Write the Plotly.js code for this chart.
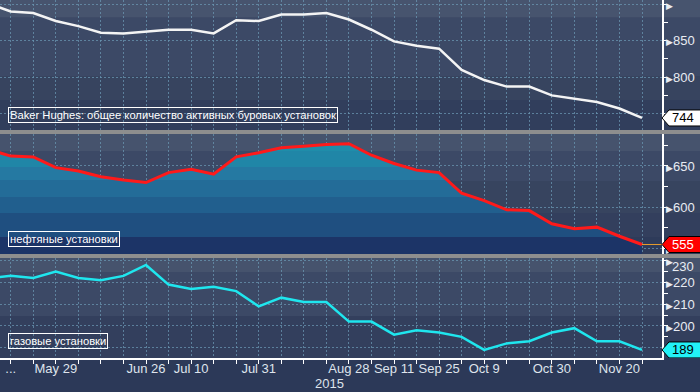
<!DOCTYPE html>
<html><head><meta charset="utf-8">
<script src="https://cdn.plot.ly/plotly-3.0.1.min.js"></script>
<style>html,body{margin:0;padding:0;background:#2c3958;}#chart{width:700px;height:392px;}</style>
</head><body><div id="chart"></div>
<script>
// ---------- data ----------
const weeks = ['2015-05-08','2015-05-15','2015-05-22','2015-05-29','2015-06-05','2015-06-12','2015-06-19','2015-06-26',
  '2015-07-03','2015-07-10','2015-07-17','2015-07-24','2015-07-31','2015-08-07','2015-08-14','2015-08-21','2015-08-28',
  '2015-09-04','2015-09-11','2015-09-18','2015-09-25','2015-10-02','2015-10-09','2015-10-16','2015-10-23','2015-10-30',
  '2015-11-06','2015-11-13','2015-11-20','2015-11-27'];
const totalRigs = [901, 890, 888, 877, 870, 861, 860, 862, 865, 865, 860, 878, 877, 886, 886, 888, 879, 865, 849, 843,
  839, 810, 796, 787, 787, 775, 771, 766, 757, 744];
const oilRigs = [670, 662, 661, 648, 644, 637, 633, 630, 642, 646, 640, 661, 666, 672, 674, 676, 677, 663, 653, 645,
  642, 617, 608, 597, 596, 580, 574, 576, 565, 555];
const gasRigs = [222, 223, 222, 225, 222, 221, 223, 228, 219, 217, 218, 216, 209, 213, 211, 211, 202, 202, 196, 198,
  197, 195, 189, 192, 193, 197, 199, 193, 193, 189];

const xLabelDates = ['2015-05-15','2015-05-29','2015-06-26','2015-07-10','2015-07-31','2015-08-28','2015-09-11','2015-09-25','2015-10-09','2015-10-30','2015-11-20'];
const xLabelText  = ['...','May 29','Jun 26','Jul 10','Jul 31','Aug 28','Sep 11','Sep 25','Oct 9','Oct 30','Nov 20'];
const yearLabel = '2015';

const totalTickVals = [750, 800, 850, 900];
const totalTickText = ['', '800', '850', ''];
const oilTickVals = [550, 600, 650];
const oilTickText = ['', '600', '650'];
const gasTickVals = [190, 200, 210, 220, 230];
const gasTickText = ['', '200', '210', '220', '230'];

const titleTotal = 'Baker Hughes: общее количество активных буровых установок';
const titleOil = 'нефтяные установки';
const titleGas = 'газовые установки';

// ---------- style ----------
const FONT = 'Liberation Sans, Arial, sans-serif';
const H = 358, W = 662, FULLW = 700;
const py = p => 1 - p / H;
const xRange = ['2015-05-11 16:00', '2015-12-03 05:00'];
const r1 = [727.5, 905.8], r2 = [543.5, 688.7], r3 = [185.3, 231.2];
const GRID = 'rgba(105,150,178,0.75)';
const DASH = '2px,2px';
const ARROW = '<span style="font-size:9px;font-family:DejaVu Sans">▶</span>';

const bgBands = [[0,17.7,'#47546e'],[17.7,76,'#3c4966'],[76,100,'#37445f'],[100,130,'#313e5c'],
  [134,151,'#46536d'],[151,181,'#3c4966'],[181,213,'#37445f'],[213,237,'#333f5d'],[237,254,'#2e3b5a'],
  [258,272,'#46536d'],[272,316,'#3c4966'],[316,358,'#333f5d']];
const seps = [[130,134],[254,258]];
const oilFillBands = [[543.5,'#1c3467'],[564.4,'#1f4f80'],[593.1,'#215f8e'],[612.8,'#236c98'],[633,'#2579a2'],[649.1,'#2086a7'],[668.1,'#1f8daa']];

function steppedScale(bands, lo, hi){
  const cs = [];
  bands.forEach((b, i) => {
    const a = (b[0] - lo) / (hi - lo);
    const e = i + 1 < bands.length ? (bands[i+1][0] - lo) / (hi - lo) : 1;
    cs.push([Math.max(0, a), b[1]]); cs.push([Math.min(1, e), b[1]]);
  });
  return cs;
}

const labelMap = {};
xLabelDates.forEach((d, i) => labelMap[d] = xLabelText[i]);

const traces = [
  {x: weeks, y: totalRigs, xaxis: 'x', yaxis: 'y', mode: 'lines', line: {color: '#f4f4f4', width: 2.5}, hoverinfo: 'skip'},
  {x: weeks, y: oilRigs, xaxis: 'x', yaxis: 'y2', mode: 'lines', fill: 'tozeroy',
   fillgradient: {type: 'vertical', start: r2[0], stop: r2[1], colorscale: steppedScale(oilFillBands, r2[0], r2[1])},
   line: {color: '#ff1a1a', width: 3}, hoverinfo: 'skip'},
  {x: weeks, y: gasRigs, xaxis: 'x', yaxis: 'y3', mode: 'lines', line: {color: '#1fe6ee', width: 2.5}, hoverinfo: 'skip'}
];

const shapes = [];
bgBands.forEach(b => shapes.push({type: 'rect', layer: 'below', xref: 'paper', yref: 'paper', x0: 0, x1: FULLW / W,
  y0: py(b[1]), y1: py(b[0]), fillcolor: b[2], line: {width: 0}}));
seps.forEach(s => shapes.push({type: 'rect', layer: 'above', xref: 'paper', yref: 'paper', x0: 0, x1: FULLW / W,
  y0: py(s[1]), y1: py(s[0]), fillcolor: '#8e8e8e', line: {width: 0}}));

const last = a => a[a.length - 1];
shapes.push({type: 'line', layer: 'above', xref: 'x', yref: 'y2', x0: last(weeks), x1: xRange[1], y0: last(oilRigs), y1: last(oilRigs),
  line: {color: '#e39a2d', width: 1}});

const tagPath = 'M0,0 L7,8 L44,8 L44,-8 L7,-8 Z';
const tags = [
  {yref: 'y', v: last(totalRigs), fill: '#ffffff', txt: '#000000'},
  {yref: 'y2', v: last(oilRigs), fill: '#ff0000', txt: '#ffffff'},
  {yref: 'y3', v: last(gasRigs), fill: '#22f2f6', txt: '#000000'}
];
const annotations = [];
tags.forEach(t => {
  shapes.push({type: 'path', layer: 'above', xref: 'paper', xsizemode: 'pixel', xanchor: 1,
    yref: t.yref, ysizemode: 'pixel', yanchor: t.v, path: tagPath, fillcolor: t.fill, line: {color: '#000', width: 1}});
  annotations.push({xref: 'paper', x: 1, xanchor: 'left', xshift: 8, yref: t.yref, y: t.v, yanchor: 'middle',
    text: String(t.v), showarrow: false, font: {family: FONT, size: 13, color: t.txt}});
});

[[titleTotal, 'y domain', 7], [titleOil, 'y2 domain', 7.3], [titleGas, 'y3 domain', 8.7]].forEach(l => {
  annotations.push({xref: 'paper', x: 0, xanchor: 'left', xshift: 8, yref: l[1], y: 0, yanchor: 'bottom', yshift: l[2],
    text: l[0], showarrow: false, bordercolor: '#ffffff', borderwidth: 1, borderpad: 1,
    font: {family: FONT, size: 11.2, color: '#ffffff'}});
});
annotations.push({xref: 'x', x: '2015-08-22', yref: 'paper', y: 0, yshift: -25, yanchor: 'middle', text: yearLabel,
  showarrow: false, font: {family: FONT, size: 13, color: '#dfe4ec'}});

// top gas label is drawn slightly lower (pushed away from panel edge), tick arrow stays on the axis
const gasTopIdx = gasTickText.length - 1;
const gasTickTextAxis = gasTickText.map((t, i) => i === gasTopIdx ? '' : t);
annotations.push({xref: 'paper', x: 1, xanchor: 'left', xshift: 8, yref: 'y3', y: gasTickVals[gasTopIdx], yanchor: 'middle', yshift: -6,
  text: gasTickText[gasTopIdx], showarrow: false, font: {family: FONT, size: 13, color: '#e8ecf2'}});

function yAxis(domain, range, vals, texts, minorD){
  return {domain: domain, range: range, side: 'right', anchor: 'x', tickmode: 'array', tickvals: vals,
    ticktext: texts.map(t => ARROW + t), ticks: '', showline: true, linecolor: '#ffffff', linewidth: 1.5,
    showgrid: true, gridcolor: GRID, griddash: DASH, gridwidth: 1, zeroline: false, layer: 'above traces',
    tickfont: {family: FONT, size: 13, color: '#e8ecf2'},
    minor: {tickmode: 'linear', tick0: 0, dtick: minorD, ticks: 'outside', ticklen: 4, tickcolor: '#ffffff', tickwidth: 1, showgrid: false},
    fixedrange: true};
}

const layout = {
  width: 700, height: 392, margin: {l: 0, r: 38, t: 0, b: 34},
  paper_bgcolor: '#2c3958', plot_bgcolor: 'rgba(0,0,0,0)', showlegend: false,
  font: {family: FONT, size: 13, color: '#e6eaf0'},
  xaxis: {type: 'date', range: xRange, anchor: 'y3', tickmode: 'array', tickvals: weeks,
    ticktext: weeks.map(d => labelMap[d] || ''), ticks: 'outside', ticklen: 4, tickcolor: '#ffffff',
    ticklabelstandoff: -6,
    showline: true, linecolor: '#ffffff', linewidth: 1.5, showgrid: true, gridcolor: GRID, griddash: DASH, gridwidth: 1,
    layer: 'above traces', zeroline: false, tickfont: {family: FONT, size: 13, color: '#dfe4ec'}, fixedrange: true},
  yaxis: yAxis([py(130), 1], r1, totalTickVals, totalTickText, 25),
  yaxis2: yAxis([py(254), py(134)], r2, oilTickVals, oilTickText, 25),
  yaxis3: yAxis([0, py(258)], r3, gasTickVals, gasTickTextAxis, 5),
  shapes: shapes, annotations: annotations
};

Plotly.newPlot('chart', traces, layout, {displayModeBar: false, staticPlot: true});
</script></body></html>
